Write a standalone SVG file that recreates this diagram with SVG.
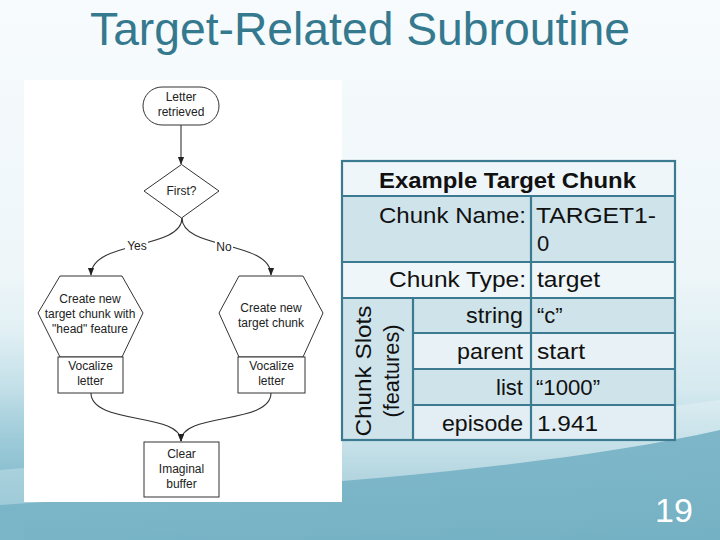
<svg xmlns="http://www.w3.org/2000/svg" width="720" height="540" viewBox="0 0 720 540">
<defs>
<linearGradient id="bg" x1="0" y1="0" x2="0" y2="1">
<stop offset="0" stop-color="#f7fbfd"/>
<stop offset="0.5" stop-color="#eef6f9"/>
<stop offset="0.72" stop-color="#d6eaf0"/>
<stop offset="0.85" stop-color="#a9d1dd"/>
<stop offset="1" stop-color="#6aaabe"/>
</linearGradient>
<linearGradient id="leftg" x1="0" y1="0" x2="0" y2="1">
<stop offset="0" stop-color="#8cc2d2" stop-opacity="0"/>
<stop offset="1" stop-color="#7ab7ca" stop-opacity="0.9"/>
</linearGradient>
<linearGradient id="wave" x1="0" y1="0" x2="1" y2="0">
<stop offset="0" stop-color="#74b2c5"/>
<stop offset="1" stop-color="#70aec2"/>
</linearGradient>
<marker id="ah" viewBox="0 0 10 10" refX="9" refY="5" markerWidth="7" markerHeight="7" orient="auto">
<path d="M0,1 L10,5 L0,9 z" fill="#222"/>
</marker>
<style>
.fc{font-family:"Liberation Sans",Arial,sans-serif;font-size:12px;fill:#222;text-anchor:middle}
.shape{fill:#fff;stroke:#333;stroke-width:1}
.conn{fill:none;stroke:#333;stroke-width:1.1}
.tb{font-family:"Liberation Sans",Arial,sans-serif;font-size:22px;fill:#111}
.cell{stroke:#3b7a90;stroke-width:2.2}
.light{fill:#eef6f9}
.dark{fill:#cfe3eb}
</style>
</defs>
<rect width="720" height="540" fill="url(#bg)"/>
<rect x="0" y="330" width="24" height="210" fill="url(#leftg)"/>
<path d="M0,470 C200,455 500,430 720,400 L720,540 L0,540 Z" fill="#ffffff" opacity="0.25"/>
<path d="M0,505 C220,490 520,475 720,430 L720,540 L0,540 Z" fill="url(#wave)" opacity="0.85"/>
<text x="360" y="45" font-family="'Liberation Sans',Arial,sans-serif" font-size="46" fill="#35798f" text-anchor="middle" textLength="540" lengthAdjust="spacingAndGlyphs">Target-Related Subroutine</text>
<rect x="24" y="80" width="318" height="422" fill="#fff"/>
<g id="connectors">
<line class="conn" x1="181" y1="125" x2="181" y2="164" marker-end="url(#ah)"/>
<path class="conn" d="M182,218 C182,250 91,240 91,275" marker-end="url(#ah)"/>
<path class="conn" d="M182,218 C182,250 271,240 271,275" marker-end="url(#ah)"/>
<path class="conn" d="M91,393 C91,425 181,412 181,441" marker-end="url(#ah)"/>
<path class="conn" d="M271,393 C271,425 181,412 181,441" marker-end="url(#ah)"/>
<rect x="125" y="238" width="23" height="13" fill="#fff"/>
<text class="fc" x="137" y="250">Yes</text>
<rect x="215" y="239" width="18" height="13" fill="#fff"/>
<text class="fc" x="224" y="251">No</text>
</g>
<g id="letter-retrieved">
<rect class="shape" x="143" y="87" width="76" height="38" rx="19"/>
<text class="fc" x="181" y="101">Letter</text>
<text class="fc" x="181" y="116">retrieved</text>
</g>
<g id="first">
<polygon class="shape" points="181.5,164.5 219,191 181.5,218 144,191"/>
<text class="fc" x="181.5" y="195">First?</text>
</g>
<g id="create-head">
<polygon class="shape" points="60,276 122,276 143,313 122,357 60,357 38,313"/>
<text class="fc" x="90" y="303">Create new</text>
<text class="fc" x="90" y="318">target chunk with</text>
<text class="fc" x="90" y="333">"head" feature</text>
</g>
<g id="create-new">
<polygon class="shape" points="239,276 303,276 323,313 303,357 239,357 219,313"/>
<text class="fc" x="271" y="312">Create new</text>
<text class="fc" x="271" y="327">target chunk</text>
</g>
<g id="vocalize-left">
<rect class="shape" x="58" y="357" width="65" height="36"/>
<text class="fc" x="90.5" y="370">Vocalize</text>
<text class="fc" x="90.5" y="385">letter</text>
</g>
<g id="vocalize-right">
<rect class="shape" x="238" y="357" width="67" height="36"/>
<text class="fc" x="271.5" y="370">Vocalize</text>
<text class="fc" x="271.5" y="385">letter</text>
</g>
<g id="clear-buffer">
<rect class="shape" x="144" y="442" width="75" height="55"/>
<text class="fc" x="181.5" y="458">Clear</text>
<text class="fc" x="181.5" y="473">Imaginal</text>
<text class="fc" x="181.5" y="488">buffer</text>
</g>
<g id="table">
<rect class="light" x="342" y="161" width="333" height="35"/>
<rect class="dark" x="342" y="196" width="333" height="66"/>
<rect class="light" x="342" y="262" width="333" height="36"/>
<rect class="dark" x="342" y="298" width="333" height="35"/>
<rect fill="#e8f2f6" x="342" y="333" width="333" height="36"/>
<rect class="dark" x="342" y="369" width="333" height="36"/>
<rect fill="#e2eef3" x="342" y="405" width="333" height="35"/>
<rect class="dark" x="342" y="298" width="71" height="142"/>
<g class="cell" fill="none">
<rect x="342" y="161" width="333" height="279"/>
<line x1="342" y1="196" x2="675" y2="196"/>
<line x1="342" y1="262" x2="675" y2="262"/>
<line x1="342" y1="298" x2="675" y2="298"/>
<line x1="413" y1="333" x2="675" y2="333"/>
<line x1="413" y1="369" x2="675" y2="369"/>
<line x1="413" y1="405" x2="675" y2="405"/>
<line x1="531" y1="196" x2="531" y2="440"/>
<line x1="413" y1="298" x2="413" y2="440"/>
</g>
<text class="tb" x="379" y="188" font-weight="bold" textLength="257" lengthAdjust="spacingAndGlyphs">Example Target Chunk</text>
<text class="tb" x="379" y="223" textLength="147" lengthAdjust="spacingAndGlyphs">Chunk Name:</text>
<text class="tb" x="536" y="223" textLength="120" lengthAdjust="spacingAndGlyphs">TARGET1-</text>
<text class="tb" x="537" y="251">0</text>
<text class="tb" x="389" y="287" textLength="137" lengthAdjust="spacingAndGlyphs">Chunk Type:</text>
<text class="tb" x="537" y="287" textLength="63" lengthAdjust="spacingAndGlyphs">target</text>
<text class="tb" x="466" y="323" textLength="57" lengthAdjust="spacingAndGlyphs">string</text>
<text class="tb" x="537" y="323">“c”</text>
<text class="tb" x="457" y="359" textLength="66" lengthAdjust="spacingAndGlyphs">parent</text>
<text class="tb" x="537" y="359" textLength="48" lengthAdjust="spacingAndGlyphs">start</text>
<text class="tb" x="496" y="395" textLength="27" lengthAdjust="spacingAndGlyphs">list</text>
<text class="tb" x="536" y="395" textLength="64" lengthAdjust="spacingAndGlyphs">“1000”</text>
<text class="tb" x="442" y="431" textLength="81" lengthAdjust="spacingAndGlyphs">episode</text>
<text class="tb" x="537" y="431" textLength="61" lengthAdjust="spacingAndGlyphs">1.941</text>
<text class="tb" transform="translate(371,371) rotate(-90)" text-anchor="middle" textLength="131" lengthAdjust="spacingAndGlyphs">Chunk Slots</text>
<text class="tb" transform="translate(399,371) rotate(-90)" text-anchor="middle" textLength="93" lengthAdjust="spacingAndGlyphs">(features)</text>
</g>
<text x="674" y="522" font-family="'Liberation Sans',Arial,sans-serif" font-size="34" fill="#ffffff" text-anchor="middle">19</text>
</svg>
